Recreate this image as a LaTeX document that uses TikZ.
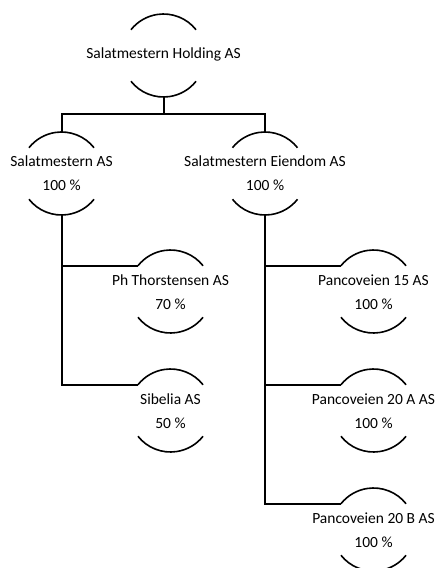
\documentclass[tikz,border=0pt]{standalone}
\usepackage{fontspec}
\setmainfont{Carlito}
\usetikzlibrary{calc}
\begin{document}
\begin{tikzpicture}[x=1pt,y=1pt,
  txt/.style={align=center,inner sep=0pt,font=\fontsize{15.5}{24}\selectfont},
  arcline/.style={line width=1.6pt},
  conn/.style={line width=2pt}]
\useasboundingbox (0,0) rectangle (436,-568);
\def\R{41.5pt}
% nodes (text)
\node[txt] (top)  at (163.5,-54.5) {Salatmestern Holding AS};
\node[txt] (sa)   at (61.5,-173.5) {Salatmestern AS\\100 \%};
\node[txt] (se)   at (265,-173.5) {Salatmestern Eiendom AS\\100 \%};
\node[txt] (pt)   at (170.5,-292.5) {Ph Thorstensen AS\\70 \%};
\node[txt] (sib)  at (170.5,-411.5) {Sibelia AS\\50 \%};
\node[txt] (p15)  at (373.5,-292.5) {Pancoveien 15 AS\\100 \%};
\node[txt] (p20a) at (373.5,-411.5) {Pancoveien 20 A AS\\100 \%};
\node[txt] (p20b) at (373.5,-530.5) {Pancoveien 20 B AS\\100 \%};
% circle centres
\coordinate (topc)  at (163.5,-55.5);
\coordinate (sac)   at (61.5,-173.5);
\coordinate (sec)   at (265,-173.5);
\coordinate (ptc)   at (170.5,-291.5);
\coordinate (sibc)  at (170.5,-410.5);
\coordinate (p15c)  at (373.5,-291.5);
\coordinate (p20ac) at (373.5,-410.5);
\coordinate (p20bc) at (373.5,-529.5);
% arcs
\foreach \c in {topc,sac,sec,ptc,sibc,p15c,p20ac,p20bc}{
  \draw[arcline] ($(\c)+(38.4:\R)$) arc[start angle=38.4,end angle=141.6,radius=\R];
  \draw[arcline] ($(\c)+(218.4:\R)$) arc[start angle=218.4,end angle=321.6,radius=\R];
  \coordinate (\c-t) at ($(\c)+(0,\R)$);
  \coordinate (\c-b) at ($(\c)+(0,-\R)$);
  \coordinate (\c-l) at ($(\c)+(141.6:\R)$);
}
\coordinate (bus) at (163.5,-114);
% connectors
\draw[conn] (topc-b) -- (bus);
\draw[conn] (sac-t) |- (bus) -| (sec-t);
\draw[conn] (sac-b) |- (ptc-l);
\draw[conn] (sac-b) |- (sibc-l);
\draw[conn] (sec-b) |- (p15c-l);
\draw[conn] (sec-b) |- (p20ac-l);
\draw[conn] (sec-b) |- (p20bc-l);
\end{tikzpicture}
\end{document}
